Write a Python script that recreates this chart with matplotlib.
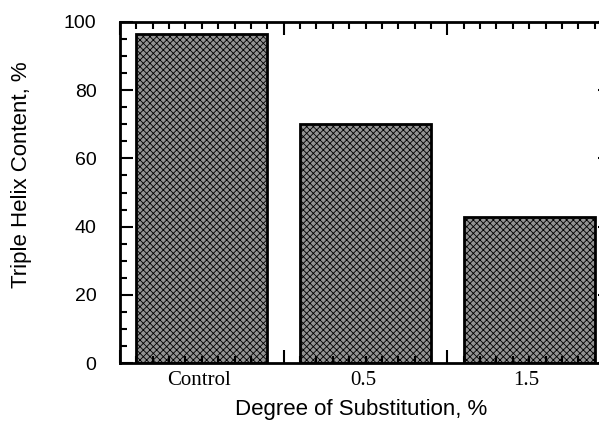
import numpy as np
import matplotlib.pyplot as plt
from matplotlib.ticker import MultipleLocator, FixedLocator

# data
categories = ["Control", "0.5", "1.5"]
helix_content = [96.5, 70.2, 42.8]

plt.rcParams["hatch.linewidth"] = 0.6
plt.rcParams["hatch.color"] = "#333333"

fig = plt.figure(figsize=(5.99, 4.21), dpi=100)
# right edge of the axes sits beyond the figure, as in the cropped scan
ax = fig.add_axes([120 / 599, 58 / 421, 491 / 599, 341 / 421])

xpos = np.arange(len(categories)) + 0.5
ax.bar(xpos, helix_content, width=0.8, color="#939393", edgecolor="black",
       linewidth=2.0, hatch="xxxxx", zorder=1)

ax.set_xlim(0, 3)
ax.set_ylim(0, 100)

ax.yaxis.set_major_locator(MultipleLocator(20))
ax.yaxis.set_minor_locator(MultipleLocator(5))
ax.xaxis.set_major_locator(FixedLocator([0, 1, 2, 3]))
ax.xaxis.set_minor_locator(MultipleLocator(0.1))
ax.set_xticklabels([])

trans = ax.get_xaxis_transform()
for x, lab in zip(xpos, categories):
    ax.text(x - 0.015, -8 / 341, lab, ha="center", va="top", fontsize=15,
            family="Liberation Serif", transform=trans)

ax.tick_params(which="both", direction="in", top=True, right=True,
               width=1.5, color="black")
ax.tick_params(which="major", length=9.5)
ax.tick_params(which="minor", length=5)
ax.tick_params(axis="y", labelsize=14, pad=17)
for lab in ax.get_yticklabels():
    lab.set_family("Liberation Sans")

for sp in ax.spines.values():
    sp.set_linewidth(2.0)

fig.text(22 / 599, 0.585, "Triple Helix Content, %", family="Liberation Sans",
         fontsize=16, rotation=90, ha="center", va="center")
fig.text(361 / 599, 6 / 421, "Degree of Substitution, %",
         family="Liberation Sans", fontsize=16, ha="center", va="baseline")

fig.savefig("out.png", dpi=100)
